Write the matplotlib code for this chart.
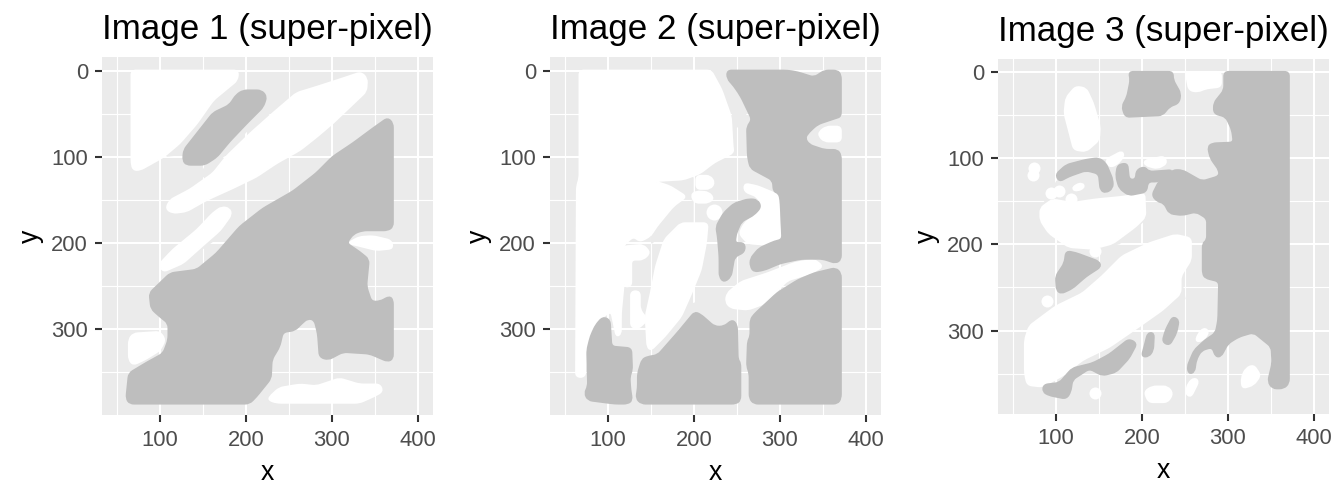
import matplotlib
matplotlib.use('Agg')
import matplotlib.pyplot as plt
import numpy as np
from matplotlib.patches import PathPatch, Polygon
from matplotlib.path import Path

plt.rcParams['font.family'] = ['Liberation Sans', 'DejaVu Sans']

DARK = '#BEBEBE'
LIGHT = '#EBEBEB'
WHITE = '#FFFFFF'

titles = ['Image 1 (super-pixel)', 'Image 2 (super-pixel)', 'Image 3 (super-pixel)']
x_major = [100, 200, 300, 400]
x_minor = [50, 150, 250, 350]
y_major = [0, 100, 200, 300]
y_minor = [50, 150, 250, 350]

# image 1
img1_light = [
    [(191, 3), (197, 20), (185, 32), (127, 97), (108, 99), (146, 55), (170, 28)],
    [(222, 37), (236, 43), (201, 70), (177, 97), (162, 109), (154, 122), (146, 124), (158, 101), (197, 59)],
    [(185, 167), (181, 179), (164, 196), (146, 209), (127, 227), (104, 233), (146, 190)],
    [(343, 185), (371, 185), (371, 192), (330, 192), (318, 198)],
]
img1_white = [
    [(67, 0), (191, 0), (190, 11), (162, 34), (143, 61), (123, 84), (104, 100), (77, 115), (69, 115), (67, 107)],
    [(334, 2), (341, 9), (340, 24), (321, 42), (301, 61), (282, 77), (263, 92), (236, 107), (212, 123), (185, 136),
     (154, 150), (131, 163), (115, 165), (107, 160), (112, 150), (135, 138), (162, 119), (177, 100), (205, 73),
     (232, 49), (259, 26), (282, 19), (313, 9)],
    [(172, 158), (181, 160), (183, 167), (170, 185), (146, 206), (127, 223), (104, 233), (99, 225), (115, 208),
     (143, 185), (162, 165)],
    [(319, 200), (332, 193), (348, 192), (369, 197), (371, 206), (352, 208), (332, 203)],
    [(69, 305), (100, 303), (106, 312), (100, 324), (84, 334), (69, 341), (64, 335), (64, 312)],
    [(227, 382), (228, 378), (239, 368), (263, 364), (282, 366), (309, 357), (332, 364), (356, 364), (359, 372),
     (348, 378), (332, 385), (236, 385)],
]
img1_dark = [
    [(197, 23), (218, 23), (224, 30), (220, 42), (201, 61), (181, 82), (166, 100), (152, 109), (131, 109), (127, 104),
     (128, 92), (143, 73), (162, 49), (181, 40), (189, 28)],
    [(365, 55), (371, 61), (371, 181), (365, 185), (336, 185), (325, 189), (317, 200), (332, 210), (343, 219),
     (340, 250), (346, 268), (356, 268), (367, 262), (371, 266), (371, 334), (365, 337), (344, 328), (313, 326),
     (296, 335), (286, 332), (284, 305), (280, 289), (272, 287), (265, 293), (257, 301), (243, 303), (239, 320),
     (230, 335), (229, 357), (212, 378), (204, 386), (65, 386), (61, 380), (64, 351), (84, 339), (104, 328),
     (110, 312), (110, 293), (100, 285), (90, 276), (88, 258), (112, 235), (143, 231), (166, 212), (193, 181),
     (220, 160), (255, 140), (282, 119), (301, 100), (325, 84), (348, 67)],
]
img1_dots = []
img1_big_dots = []

# image 2
img2_light = [
    [(220, 0), (240, 0), (247, 18), (262, 55), (262, 65), (250, 65), (245, 50), (232, 22)],
    [(199, 151), (199, 177), (176, 177), (164, 188), (151, 200), (151, 192), (176, 161)],
    [(149, 126), (199, 124), (199, 142), (176, 138)],
    [(203, 269), (199, 285), (172, 308), (153, 323), (157, 304), (191, 273)],
    [(300, 254), (300, 262), (284, 273), (267, 283), (265, 273)],
    [(288, 130), (294, 126), (300, 142), (304, 196), (296, 196), (292, 146)],
    [(340, 219), (371, 219), (371, 228), (345, 235), (320, 240)],
    [(329, 70), (345, 60), (371, 55), (371, 92), (350, 92), (330, 85)],
]
img2_white = [
    [(67, 0), (220, 0), (232, 22), (243, 53), (245, 88), (246, 95), (224, 106), (207, 119), (188, 126), (153, 128),
     (172, 134), (191, 146), (176, 157), (157, 180), (149, 192), (137, 198), (130, 192), (118, 202), (118, 250),
     (115, 281), (115, 305), (110, 308), (104, 279), (88, 289), (77, 312), (73, 355), (63, 355), (64, 134), (67, 125)],
    [(118, 204), (141, 202), (149, 211), (141, 219), (127, 219), (127, 250), (118, 250)],
    [(127, 256), (137, 256), (137, 277), (146, 289), (135, 299), (127, 297)],
    [(185, 177), (216, 177), (214, 200), (208, 231), (197, 258), (185, 285), (166, 308), (150, 324), (146, 320),
     (144, 285), (150, 258), (156, 227), (166, 196)],
    [(259, 131), (274, 134), (298, 144), (301, 196), (286, 202), (263, 200), (253, 189), (259, 177), (274, 165),
     (280, 158), (274, 146), (259, 140)],
    [(239, 258), (255, 245), (286, 235), (317, 223), (340, 219), (350, 227), (336, 235), (309, 243), (298, 254),
     (282, 270), (263, 277), (243, 275), (237, 268)],
    [(346, 71), (354, 65), (371, 65), (371, 82), (352, 82), (346, 76)],
    [(203, 122), (219, 122), (224, 130), (219, 137), (203, 137)],
    [(197, 144), (203, 140), (217, 141), (223, 148), (217, 153), (201, 153)],
]
img2_dark = [
    [(239, 0), (309, 0), (321, 2), (340, 8), (352, 0), (367, 0), (371, 5), (371, 53), (365, 55), (344, 62), (334, 71),
     (329, 78), (334, 86), (352, 92), (367, 92), (371, 98), (371, 219), (365, 223), (350, 218), (325, 218), (301, 223),
     (282, 231), (270, 233), (266, 227), (266, 218), (276, 206), (294, 198), (303, 196), (301, 150), (299, 142),
     (293, 140), (292, 127), (266, 113), (263, 100), (262, 65), (268, 57), (255, 30), (247, 18), (239, 9)],
    [(264, 149), (274, 150), (278, 158), (270, 167), (255, 175), (249, 189), (247, 200), (259, 200), (259, 210),
     (247, 216), (243, 239), (235, 245), (230, 239), (230, 216), (228, 192), (226, 181), (235, 165), (247, 154)],
    [(94, 286), (102, 289), (104, 320), (127, 322), (128, 347), (125, 355), (126, 370), (128, 382), (123, 386),
     (108, 386), (77, 382), (73, 374), (77, 366), (76, 324), (80, 308), (86, 295)],
    [(146, 332), (158, 330), (181, 304), (201, 280), (208, 283), (224, 297), (235, 297), (245, 289), (250, 295),
     (251, 335), (254, 339), (254, 382), (249, 386), (139, 386), (133, 380), (135, 368), (135, 351), (140, 335)],
    [(365, 229), (371, 235), (371, 380), (367, 386), (270, 386), (265, 380), (265, 351), (262, 343), (263, 314),
     (266, 308), (266, 289), (270, 283), (297, 258), (321, 243), (340, 235)],
]
img2_dots = []
img2_big_dots = [(224, 164)]

# image 3
img3_light = [
    [(246, 241), (250, 263), (229, 276), (200, 292), (178, 309), (147, 326), (124, 342), (116, 338), (163, 292), (209, 265)],
    [(103, 259), (128, 247), (151, 226), (201, 201), (201, 210), (163, 237), (124, 265), (105, 272)],
    [(99, 191), (124, 201), (151, 206), (174, 199), (203, 172), (203, 141), (198, 143), (182, 183), (143, 199)],
    [(101, 127), (149, 118), (155, 139), (201, 139), (201, 147), (85, 154), (93, 141)],
]
img3_white = [
    [(239, 189), (257, 193), (257, 218), (245, 237), (245, 257), (224, 276), (197, 295), (162, 319), (131, 334),
     (108, 352), (84, 365), (67, 363), (64, 350), (64, 311), (69, 295), (100, 272), (131, 257), (154, 237),
     (177, 214), (208, 199)],
    [(96, 148), (119, 152), (146, 148), (177, 145), (203, 141), (204, 168), (193, 179), (166, 199), (143, 205),
     (115, 203), (92, 187), (82, 172), (82, 158)],
    [(123, 17), (135, 19), (143, 36), (151, 63), (150, 79), (135, 92), (121, 90), (115, 67), (110, 48), (112, 30)],
    [(251, 0), (292, 0), (292, 17), (274, 19), (265, 23), (255, 21)],
    [(158, 102), (177, 92), (179, 98), (170, 108), (162, 110)],
    [(203, 103), (226, 98), (229, 106), (218, 112), (204, 108)],
    [(203, 371), (212, 365), (230, 365), (236, 373), (230, 383), (208, 383)],
    [(321, 344), (330, 340), (338, 352), (330, 363), (317, 367), (316, 355)],
    [(272, 297), (278, 301), (272, 311), (263, 313), (265, 305)],
    [(261, 355), (266, 359), (257, 377), (251, 373), (254, 361)],
    [(123, 131), (131, 129), (133, 134), (125, 138), (119, 136)],
]
img3_dark = [
    [(296, 0), (371, 0), (371, 361), (365, 367), (352, 367), (347, 359), (352, 338), (351, 319), (330, 302), (313, 307),
     (300, 315), (292, 330), (286, 330), (282, 319), (269, 323), (263, 334), (261, 348), (255, 350), (253, 342),
     (261, 323), (274, 311), (286, 303), (289, 288), (290, 243), (274, 239), (271, 234), (271, 199), (276, 195),
     (276, 170), (263, 162), (247, 166), (232, 164), (226, 152), (218, 150), (212, 143), (220, 127), (236, 114),
     (247, 114), (270, 127), (290, 121), (290, 114), (280, 100), (277, 87), (282, 83), (307, 82), (305, 67),
     (298, 52), (284, 48), (284, 36), (296, 21)],
    [(185, 0), (236, 0), (236, 9), (245, 25), (243, 36), (232, 40), (224, 50), (181, 52), (177, 40), (183, 29), (187, 9)],
    [(100, 119), (112, 108), (135, 102), (150, 100), (158, 106), (166, 125), (166, 135), (158, 140), (152, 137),
     (150, 118), (135, 114), (115, 121), (104, 127)],
    [(172, 108), (183, 106), (185, 125), (193, 125), (194, 114), (203, 110), (208, 116), (236, 114), (220, 127),
     (207, 127), (205, 139), (185, 143), (174, 135), (170, 121)],
    [(112, 208), (123, 210), (150, 220), (152, 226), (135, 237), (119, 251), (106, 257), (101, 253), (100, 237), (110, 222)],
    [(86, 363), (104, 361), (119, 344), (143, 338), (162, 328), (185, 310), (194, 315), (185, 332), (170, 348),
     (154, 352), (139, 344), (119, 357), (117, 371), (112, 379), (92, 375), (85, 371)],
    [(207, 303), (214, 303), (213, 323), (208, 330), (200, 330), (204, 315)],
    [(236, 284), (243, 288), (240, 303), (232, 317), (224, 313), (228, 299)],
]
img3_dots = [(75, 111), (73, 119), (104, 138), (94, 141), (117, 147), (90, 266), (146, 372), (146, 208)]
img3_big_dots = []

panels = [
    (img1_light, img1_white, img1_dark, img1_dots, img1_big_dots),
    (img2_light, img2_white, img2_dark, img2_dots, img2_big_dots),
    (img3_light, img3_white, img3_dark, img3_dots, img3_big_dots),
]


# closed outline with the corners rounded off, the blobs have no sharp edges
def round_path(poly, r=5.0):
    pts = np.array(poly, dtype=float)
    n = len(pts)
    verts, codes = [], []
    for j in range(n):
        p = pts[j]
        a = pts[j - 1]
        b = pts[(j + 1) % n]
        da = np.linalg.norm(a - p)
        db = np.linalg.norm(b - p)
        start = p + (a - p) * min(r, da / 2) / da
        end = p + (b - p) * min(r, db / 2) / db
        verts.append(start)
        codes.append(Path.MOVETO if j == 0 else Path.LINETO)
        verts += [p, end]
        codes += [Path.CURVE3, Path.CURVE3]
    verts.append(verts[0])
    codes.append(Path.CLOSEPOLY)
    return Path(verts, codes)


fig = plt.figure(figsize=(13.44, 4.87), dpi=100)
W, H = 1344, 487
lefts = [102, 550, 998]
tops = [57.3, 57.3, 59.3]
bottoms = [415, 415, 413.7]
y_lims = [(399.3, -15.5), (399.3, -15.5), (396.5, -14.7)]

for i, (light, white, dark, dots, big_dots) in enumerate(panels):
    ax = fig.add_axes([lefts[i] / W, 1 - bottoms[i] / H, 331 / W, (bottoms[i] - tops[i]) / H])
    ax.set_facecolor('#EBEBEB')
    for s in ax.spines.values():
        s.set_visible(False)
    ax.set_xlim(32.6, 417.8)
    ax.set_ylim(*y_lims[i])
    ax.set_xticks(x_major)
    ax.set_yticks(y_major)
    ax.set_xticks(x_minor, minor=True)
    ax.set_yticks(y_minor, minor=True)
    ax.grid(True, which='major', color='white', lw=1.5, zorder=1)
    ax.grid(True, which='minor', color='white', lw=0.8, zorder=1)
    ax.set_axisbelow(True)
    ax.tick_params(which='minor', length=0)
    ax.tick_params(which='major', length=5, width=1.5, color='#333333', labelcolor='#4D4D4D', labelsize=15.8)
    ax.tick_params(axis='x', which='major', pad=5.5)
    ax.tick_params(axis='y', which='major', pad=5)

    for poly in light:
        ax.add_patch(Polygon(poly, closed=True, fc=LIGHT, ec=LIGHT, lw=1, zorder=2))
    for poly in white:
        ax.add_patch(PathPatch(round_path(poly), fc=WHITE, ec=WHITE, lw=1.5, zorder=3))
    if dots:
        ax.scatter([d[0] for d in dots], [d[1] for d in dots], s=75, color=WHITE, lw=0, zorder=3)
    if big_dots:
        ax.scatter([d[0] for d in big_dots], [d[1] for d in big_dots], s=132, color=WHITE, lw=0, zorder=3)
    for poly in dark:
        ax.add_patch(PathPatch(round_path(poly), fc=DARK, ec=DARK, lw=1.5, zorder=4))

    ax.set_title(titles[i], loc='left', fontsize=25.2, color='black', pad=13.5)
    ax.set_xlabel('x', fontsize=19.2, color='black', labelpad=6.5)
    ax.set_ylabel('y', fontsize=19.2, color='black', labelpad=5.5)

plt.savefig('out.png', dpi=100)
